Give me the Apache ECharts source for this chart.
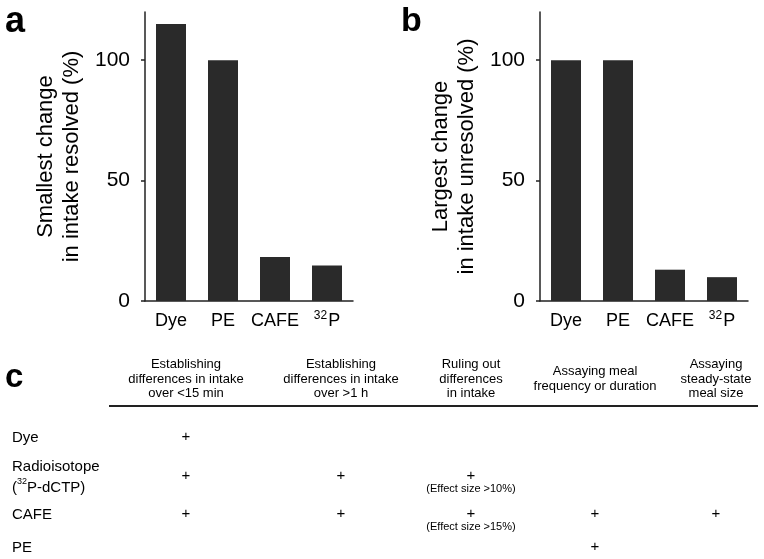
<!DOCTYPE html>
<html>
<head>
<meta charset="utf-8">
<script src="https://cdn.jsdelivr.net/npm/echarts@6/dist/echarts.min.js"></script>
<style>html,body{margin:0;padding:0;background:#fff}#c{width:764px;height:559px}</style>
</head>
<body>
<div id="c"></div>
<script>
// ---- data ----
const categories = ['Dye', 'PE', 'CAFE', '32P'];
const smallestResolved = [115, 100, 18.3, 14.7];
const largestUnresolved = [100, 100, 13, 9.9];
const yTicks = [0, 50, 100];
const tableColumns = [
  'Establishing\ndifferences in intake\nover <15 min',
  'Establishing\ndifferences in intake\nover >1 h',
  'Ruling out\ndifferences\nin intake',
  'Assaying meal\nfrequency or duration',
  'Assaying\nsteady-state\nmeal size'
];
const tableRows = ['Dye', 'Radioisotope\n({s|32}P-dCTP)', 'CAFE', 'PE'];
const tableCells = [
  ['+', '', '', '', ''],
  ['+', '+', '+', '', ''],
  ['+', '+', '+', '+', '+'],
  ['', '', '', '+', '']
];
const tableNotes = [
  ['', '', '', '', ''],
  ['', '', '(Effect size >10%)', '', ''],
  ['', '', '(Effect size >15%)', '', ''],
  ['', '', '', '', '']
];

// ---- layout ----
const FONT = '"Liberation Sans", Arial, Helvetica, sans-serif';
const colX = [186, 341, 471, 595, 716];
const rowY = [438, 477, 515, 548];
const headerY = 379;

const chart = echarts.init(document.getElementById('c'), null, {renderer: 'canvas'});

function xAxisCfg(idx) {
  return {
    type: 'category', gridIndex: idx, data: categories,
    axisLine: {lineStyle: {color: '#222', width: 1.5}},
    axisTick: {show: false},
    axisLabel: {
      interval: 0,
      color: '#000', fontFamily: FONT, fontSize: 18, margin: 9,
      formatter: v => v === '32P' ? '{s|32}{p|P}' : '{p|' + v + '}',
      rich: {
        p: {fontFamily: FONT, fontSize: 18, color: '#000', lineHeight: 20, verticalAlign: 'bottom'},
        s: {fontFamily: FONT, fontSize: 12, color: '#000', lineHeight: 20, verticalAlign: 'top', padding: [0, 1, 6, 0]}
      }
    }
  };
}
function yAxisCfg(idx, name) {
  return {
    type: 'value', gridIndex: idx, min: 0, max: 120, interval: 50,
    name: name, nameLocation: 'middle', nameGap: 60,
    nameTextStyle: {fontFamily: FONT, fontSize: 22, color: '#000', lineHeight: 26},
    axisLine: {show: true, lineStyle: {color: '#222', width: 1.5}},
    axisTick: {show: true, length: 4, customValues: yTicks, lineStyle: {color: '#222', width: 1.5}},
    axisLabel: {color: '#000', fontFamily: FONT, fontSize: 21, margin: 15, customValues: yTicks},
    splitLine: {show: false}
  };
}

const graphics = [];
graphics.push({type: 'text', x: 5, y: 40, style: {text: 'a', font: 'bold 36px ' + FONT, fill: '#000', textVerticalAlign: 'bottom', verticalAlign: 'bottom'}});
graphics.push({type: 'text', x: 401, y: 39, style: {text: 'b', font: 'bold 34px ' + FONT, fill: '#000', textVerticalAlign: 'bottom', verticalAlign: 'bottom'}});
graphics.push({type: 'text', x: 5, y: 394, style: {text: 'c', font: 'bold 33px ' + FONT, fill: '#000', textVerticalAlign: 'bottom', verticalAlign: 'bottom'}});
// header
tableColumns.forEach((t, i) => {
  graphics.push({type: 'text', x: colX[i], y: headerY, style: {
    text: t, font: '13px ' + FONT, fill: '#000', lineHeight: 14.5,
    textAlign: 'center', align: 'center', textVerticalAlign: 'middle', verticalAlign: 'middle'}});
});
graphics.push({type: 'line', shape: {x1: 109, y1: 406, x2: 758, y2: 406}, style: {stroke: '#222', lineWidth: 2}});
// rows
tableRows.forEach((r, i) => {
  graphics.push({type: 'text', x: 12, y: rowY[i], style: {
    text: r, font: '15px ' + FONT, fill: '#000', lineHeight: 21,
    textAlign: 'left', align: 'left', textVerticalAlign: 'middle', verticalAlign: 'middle',
    rich: {s: {fontSize: 9, fontFamily: FONT, fill: '#000', verticalAlign: 'top', lineHeight: 21, padding: [0, 0, 6, 0]}}}});
  tableCells[i].forEach((c, j) => {
    if (c) graphics.push({type: 'text', x: colX[j], y: rowY[i] - 1, style: {
      text: c, font: '15px ' + FONT, fill: '#000',
      textAlign: 'center', align: 'center', textVerticalAlign: 'middle', verticalAlign: 'middle'}});
    const n = tableNotes[i][j];
    if (n) graphics.push({type: 'text', x: colX[j], y: rowY[i] + 12, style: {
      text: n, font: '11px ' + FONT, fill: '#000',
      textAlign: 'center', align: 'center', textVerticalAlign: 'middle', verticalAlign: 'middle'}});
  });
});

chart.setOption({
  animation: false,
  backgroundColor: '#fff',
  grid: [
    {left: 145, width: 208, top: 12, bottom: 258},
    {left: 540, width: 208, top: 12, bottom: 258}
  ],
  xAxis: [xAxisCfg(0), xAxisCfg(1)],
  yAxis: [yAxisCfg(0, 'Smallest change\nin intake resolved (%)'), yAxisCfg(1, 'Largest change\nin intake unresolved (%)')],
  series: [
    {type: 'bar', xAxisIndex: 0, yAxisIndex: 0, data: smallestResolved, barWidth: 30, itemStyle: {color: '#2a2a2a'}},
    {type: 'bar', xAxisIndex: 1, yAxisIndex: 1, data: largestUnresolved, barWidth: 30, itemStyle: {color: '#2a2a2a'}}
  ],
  graphic: graphics
});
</script>
</body>
</html>
